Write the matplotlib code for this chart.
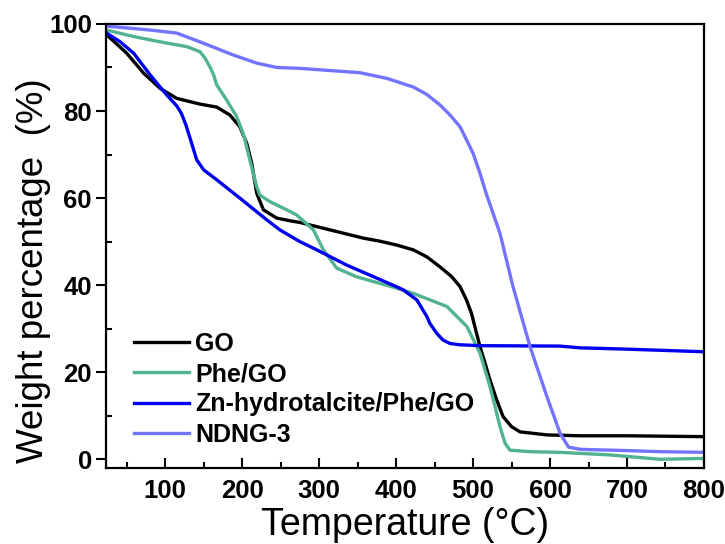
import matplotlib.pyplot as plt
import numpy as np
from matplotlib.ticker import MultipleLocator

plt.rcParams['font.family'] = ['Liberation Sans', 'DejaVu Sans']

# TGA curves
go_t = [24, 50, 72, 93.5, 115, 145, 167, 184, 197, 206, 212.5, 219, 227.7, 245, 262, 275,
        314, 357.5, 379, 401, 422.5, 440, 457, 472, 483, 491.5, 498, 509, 515.6, 522, 530.8,
        539, 550, 561, 596, 639, 700, 800]
go_w = [97.5, 93.3, 88.7, 85.2, 82.9, 81.6, 80.9, 79.1, 76.4, 72.6, 68, 61.1, 57.3, 55.4, 54.8, 54.4,
        52.7, 50.8, 50.1, 49.2, 48.1, 46.5, 44.2, 42, 39.7, 36.6, 33.5, 25.9, 22.1, 18.2, 13.6,
        9.8, 7.5, 6.3, 5.6, 5.4, 5.4, 5.2]

phe_t = [24, 59, 102, 128, 145.5, 152, 158, 163, 167, 180, 193, 202, 210, 219, 223, 236, 240.6,
         258, 271, 292.6, 305.6, 323, 349, 379, 401, 422.5, 466, 492, 509, 522, 528.6, 535,
         541.6, 548, 574, 613, 678, 743, 800]
phe_w = [98.6, 97.1, 95.6, 94.8, 93.6, 92.1, 90.2, 88.3, 86, 82.5, 78.7, 74.5, 68.8, 62.6, 60.7,
         59.2, 58.8, 57.3, 56.1, 52.7, 48.1, 43.9, 41.9, 40.4, 39.3, 38.1, 35.1, 30.5, 24.4, 16.7,
         12.1, 7.5, 3.7, 2.1, 1.75, 1.6, 1.0, 0.0, 0.2]

zn_t = [24, 41.5, 59, 80.5, 102, 115, 121, 127, 133, 141, 150, 167, 197, 232, 249, 275, 292.6, 336,
        379, 401, 409.5, 427, 440, 444, 453, 461, 470, 483, 509, 613, 639, 700, 800]
zn_w = [97.9, 95.9, 93.3, 88.3, 83.7, 81.2, 79.5, 76.8, 73.4, 68.8, 66.5, 64.2, 60, 55, 52.7, 50,
        48.5, 44.6, 41.3, 39.6, 38.9, 36.6, 32.8, 31.2, 28.9, 27.4, 26.6, 26.3, 26.1, 26.0, 25.6,
        25.3, 24.7]

nd_t = [24, 80.5, 115, 145, 188, 219, 245, 275, 353, 388, 422.5, 440, 457, 470, 483, 491.5,
        500, 509, 517, 535, 552, 574, 596, 613, 624, 639, 656, 700, 743, 800]
nd_w = [99.5, 98.6, 97.9, 95.9, 92.9, 91, 90, 89.8, 88.8, 87.5, 85.5, 83.8, 81.4, 79.1, 76.4, 73.4,
        70.3, 65.7, 61.1, 51.9, 39.6, 25.9, 14.4, 6.0, 2.8, 2.3, 2.2, 2.0, 1.75, 1.6]

labels = ['GO', 'Phe/GO', 'Zn-hydrotalcite/Phe/GO', 'NDNG-3']
colors = ['black', '#52b392', '#0000f0', '#7373ff']

fig = plt.figure(figsize=(7.25, 5.44), dpi=100)
ax = fig.add_axes([0.146, 0.1397, 0.825, 0.8163])

for t, w, lab, c in zip([go_t, phe_t, zn_t, nd_t], [go_w, phe_w, zn_w, nd_w], labels, colors):
    ax.plot(t, w, color=c, lw=2.4, label=lab)

ax.set_xlim(23, 800)
ax.set_ylim(-2, 100)
ax.xaxis.set_major_locator(MultipleLocator(100))
ax.xaxis.set_minor_locator(MultipleLocator(50))
ax.yaxis.set_major_locator(MultipleLocator(20))
ax.yaxis.set_minor_locator(MultipleLocator(10))

ax.tick_params(axis='x', which='major', direction='in', length=7, width=1.5, pad=8)
ax.tick_params(axis='x', which='minor', direction='in', length=4, width=1.5)
ax.tick_params(axis='y', which='major', direction='out', length=7, width=1.5, pad=3)
ax.tick_params(axis='y', which='minor', direction='in', length=4, width=1.5)
for lab in ax.get_xticklabels() + ax.get_yticklabels():
    lab.set_fontweight('bold')
    lab.set_fontsize(18.5)
for s in ax.spines.values():
    s.set_linewidth(1.6)

ax.set_xlabel('Temperature (\u00b0C)', fontsize=27, labelpad=3)
ax.set_ylabel('Weight percentage  (%)', fontsize=26.5)
ax.yaxis.set_label_coords(-0.092, 0.444)

ax.legend(loc='lower left', bbox_to_anchor=(0.027, 0.02), frameon=False,
          prop={'weight': 'bold', 'size': 18}, handlelength=2.2, handletextpad=0.22,
          labelspacing=0.25, borderpad=0)

fig.savefig('out.png', dpi=100)
